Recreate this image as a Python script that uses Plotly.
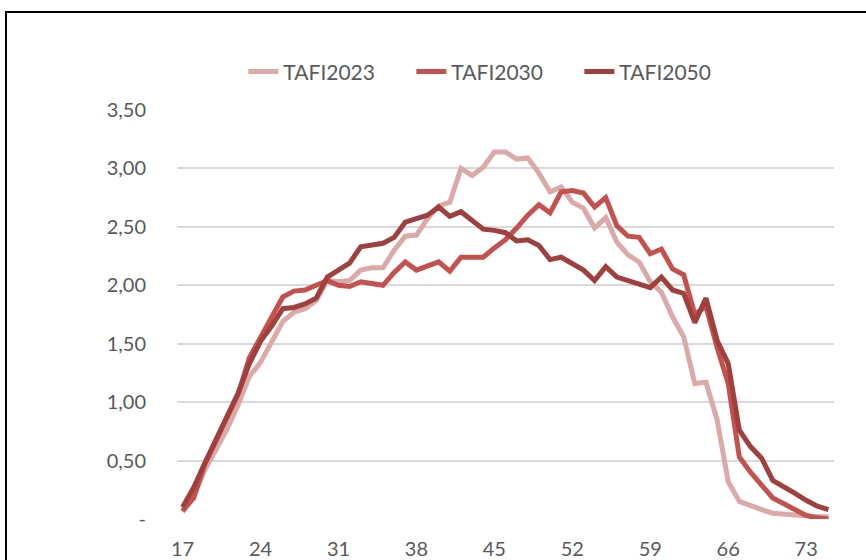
import plotly.graph_objects as go

ages = list(range(17, 76))

tafi2023 = [0.06, 0.20, 0.42, 0.60, 0.77, 0.98, 1.22, 1.34, 1.52, 1.69,
            1.77, 1.80, 1.87, 2.04, 2.03, 2.04, 2.13, 2.15, 2.15, 2.30,
            2.42, 2.43, 2.57, 2.68, 2.71, 3.00, 2.94, 3.01, 3.14, 3.14,
            3.08, 3.09, 2.96, 2.80, 2.84, 2.71, 2.66, 2.49, 2.58, 2.37,
            2.26, 2.20, 2.03, 1.94, 1.73, 1.56, 1.16, 1.17, 0.85, 0.32,
            0.15, 0.11, 0.08, 0.05, 0.04, 0.03, 0.03, 0.02, 0.02]

tafi2030 = [0.07, 0.18, 0.47, 0.67, 0.87, 1.07, 1.38, 1.56, 1.73, 1.90,
            1.95, 1.96, 2.00, 2.04, 2.00, 1.99, 2.03, 2.02, 2.00, 2.11,
            2.20, 2.13, 2.17, 2.20, 2.12, 2.24, 2.24, 2.24, 2.32, 2.39,
            2.49, 2.60, 2.69, 2.62, 2.80, 2.81, 2.79, 2.67, 2.75, 2.51,
            2.42, 2.41, 2.27, 2.31, 2.14, 2.09, 1.75, 1.82, 1.47, 1.16,
            0.53, 0.40, 0.29, 0.18, 0.13, 0.08, 0.03, 0.01, 0.00]

tafi2050 = [0.10, 0.27, 0.48, 0.68, 0.86, 1.08, 1.33, 1.52, 1.65, 1.80,
            1.81, 1.84, 1.89, 2.07, 2.13, 2.19, 2.33, 2.35, 2.36, 2.41,
            2.54, 2.57, 2.60, 2.67, 2.59, 2.63, 2.55, 2.48, 2.47, 2.45,
            2.38, 2.39, 2.34, 2.22, 2.24, 2.19, 2.13, 2.04, 2.16, 2.07,
            2.04, 2.02, 1.98, 2.07, 1.96, 1.93, 1.68, 1.89, 1.53, 1.33,
            0.76, 0.62, 0.52, 0.33, 0.28, 0.22, 0.16, 0.11, 0.08]

series_names = ["TAFI2023", "TAFI2030", "TAFI2050"]
series_colors = ["#DBA9A8", "#C4514E", "#A0403E"]

x_ticks = [17, 24, 31, 38, 45, 52, 59, 66, 73]
y_ticks = [0, 0.5, 1.0, 1.5, 2.0, 2.5, 3.0, 3.5]
y_tick_labels = ["-", "0,50", "1,00", "1,50", "2,00", "2,50", "3,00", "3,50"]

fig = go.Figure()
for name, vals, col in zip(series_names, [tafi2023, tafi2030, tafi2050], series_colors):
    fig.add_trace(go.Scatter(x=ages, y=vals, mode="lines", name=name,
                             line=dict(color=col, width=5)))

font_family = "Lato, 'Open Sans', sans-serif"

fig.update_layout(
    width=866, height=560,
    margin=dict(l=177, r=32, t=110, b=41, autoexpand=False),
    paper_bgcolor="white", plot_bgcolor="white",
    font=dict(family=font_family, size=20, color="#595959"),
    showlegend=True,
    legend=dict(orientation="h", x=0.101, xanchor="left", y=1.093, yanchor="middle",
                font=dict(size=21, color="#595959"), traceorder="normal",
                entrywidth=123, entrywidthmode="pixels",
                bgcolor="rgba(0,0,0,0)"),
    xaxis=dict(range=[16.5, 75.5], tickmode="array", tickvals=x_ticks,
               ticktext=[str(v) for v in x_ticks], showgrid=False, zeroline=False,
               showline=False, ticks="outside", ticklen=12, tickcolor="rgba(0,0,0,0)",
               tickfont=dict(size=20, color="#595959")),
    yaxis=dict(range=[0, 3.5], tickmode="array", tickvals=y_ticks, ticktext=y_tick_labels,
               showgrid=True, gridcolor="#D9D9D9", gridwidth=1.5, zeroline=False,
               showline=False, ticks="outside", ticklen=26, tickcolor="rgba(0,0,0,0)",
               tickfont=dict(size=20, color="#595959")),
    shapes=[dict(type="rect", xref="paper", yref="paper",
                 x0=-0.2603, x1=1.06, y0=-0.15, y1=1.2396,
                 line=dict(color="black", width=2), fillcolor="rgba(0,0,0,0)",
                 layer="above")],
)

fig.write_html("out.html", config={"displayModeBar": False},
               post_script="document.body.style.margin='0px';document.body.style.padding='0px';")
